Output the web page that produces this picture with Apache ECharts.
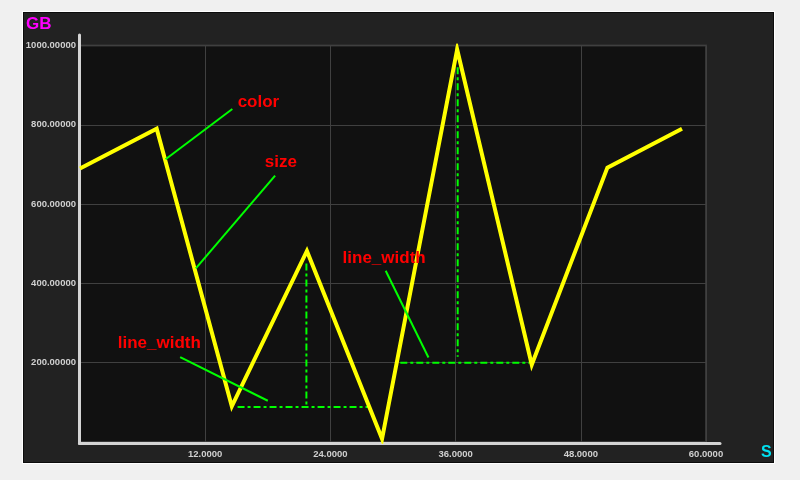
<!DOCTYPE html>
<html>
<head>
<meta charset="utf-8">
<script src="https://cdn.jsdelivr.net/npm/echarts@6/dist/echarts.min.js"></script>
<style>
  html, body { margin: 0; padding: 0; background: #f0f0f0; }
  #panel { position: absolute; left: 23px; top: 12px; width: 749px; height: 449px; background: #222222; border: 1px solid #0c0c0c; box-shadow: 0 0 0 1px #ffffff; }
  #chart { position: absolute; left: 0; top: 0; width: 800px; height: 480px; }
</style>
</head>
<body>
<div id="panel"></div>
<div id="chart"></div>
<script>
// ---- data ----
const xValues = [0, 7.35, 14.55, 21.75, 28.95, 36.15, 43.3, 50.55, 57.7];
const yValues = [690, 790, 90, 482, 8, 990, 195, 692, 790];

const xTicks = [12, 24, 36, 48, 60];
const yTicks = [200, 400, 600, 800, 1000];

// dash-dot guide lines (data coords): [x1, y1, x2, y2]
const guideLines = [
  [15.1, 88, 27.6, 88],
  [21.7, 450, 21.7, 88],
  [30.7, 200, 43.1, 200],
  [36.2, 945, 36.2, 215]
];

// annotation leader lines: [x1, y1, x2, y2]
const leaderLines = [
  [14.6, 840, 8.2, 713],
  [18.7, 672, 11.1, 438],
  [29.3, 432, 33.4, 213],
  [9.6, 214, 18.0, 104]
];

// annotation texts
const noteTexts = ['color', 'size', 'line_width', 'line_width'];
const noteX = [17.1, 19.25, 29.15, 7.6];
const noteY = [856, 705, 463, 250];

const xName = 'S';
const yName = 'GB';

// ---- chart ----
const chart = echarts.init(document.getElementById('chart'), null, { renderer: 'canvas' });
const FONT = 'Liberation Sans, Arial, sans-serif';

const series = [];
guideLines.forEach(function (g) {
  series.push({
    type: 'line', xAxisIndex: 0, yAxisIndex: 0, symbol: 'none', silent: true,
    data: [[g[0], g[1]], [g[2], g[3]]],
    lineStyle: { color: '#00ff00', width: 2, type: [7, 3, 3, 3] },
    z: 3
  });
});
series.push({
  type: 'line', xAxisIndex: 0, yAxisIndex: 0, symbol: 'none',
  data: xValues.map(function (x, i) { return [x, yValues[i]]; }),
  lineStyle: { color: '#ffff00', width: 4, join: 'miter' },
  z: 4
});
leaderLines.forEach(function (g) {
  series.push({
    type: 'line', xAxisIndex: 0, yAxisIndex: 0, symbol: 'none', silent: true,
    data: [[g[0], g[1]], [g[2], g[3]]],
    lineStyle: { color: '#00ff00', width: 2 },
    z: 5
  });
});
series.push({
  type: 'scatter', xAxisIndex: 0, yAxisIndex: 0, symbolSize: 0,
  itemStyle: { color: '#ff0000', opacity: 1 },
  data: noteTexts.map(function (t, i) { return { name: t, value: [noteX[i], noteY[i]] }; }),
  label: {
    show: true, position: 'inside', formatter: '{b}', opacity: 1,
    color: '#ff0000', fontSize: 17, fontWeight: 'bold', fontFamily: FONT,
    textBorderWidth: 0, textBorderColor: 'transparent', textShadowBlur: 0
  },
  z: 6
});

const option = {
  animation: false,
  backgroundColor: 'transparent',
  title: [
    { text: yName, left: 26, top: 16, padding: 0, textStyle: { color: '#ff00ff', fontSize: 17, fontWeight: 'bold', fontFamily: FONT } },
    { text: xName, left: 761, top: 445, padding: 0, textStyle: { color: '#00e0f0', fontSize: 16, fontWeight: 'bold', fontFamily: FONT } }
  ],
  grid: [
    { left: 80, right: 94, top: 45.5, bottom: 38, show: true, backgroundColor: '#111111', borderColor: '#363636', borderWidth: 2 },
    { left: 79.5, right: 80, top: 35, bottom: 36.5, show: false }
  ],
  xAxis: [
    {
      gridIndex: 0, type: 'value', min: 0, max: 60, interval: 12,
      axisLine: { show: false }, axisTick: { show: false },
      splitLine: { show: true, lineStyle: { color: '#404040', width: 1 } },
      axisLabel: {
        color: '#d0d0d0', fontSize: 9.5, fontWeight: 'bold', fontFamily: FONT, margin: 7,
        showMinLabel: false,
        formatter: function (v) { return xTicks.indexOf(v) >= 0 ? v.toFixed(4) : ''; }
      }
    },
    {
      gridIndex: 1, type: 'value', min: 0, max: 1,
      axisLine: { show: true, onZero: false, lineStyle: { color: '#d4d4d4', width: 3 } },
      axisTick: { show: false }, axisLabel: { show: false }, splitLine: { show: false }
    }
  ],
  yAxis: [
    {
      gridIndex: 0, type: 'value', min: 0, max: 1000, interval: 200,
      axisLine: { show: false }, axisTick: { show: false },
      splitLine: { show: true, lineStyle: { color: '#404040', width: 1 } },
      axisLabel: {
        color: '#d0d0d0', fontSize: 9.5, fontWeight: 'bold', fontFamily: FONT, margin: 4,
        padding: [3, 0, 0, 0],
        showMinLabel: false,
        formatter: function (v) { return yTicks.indexOf(v) >= 0 ? v.toFixed(5) : ''; }
      }
    },
    {
      gridIndex: 1, type: 'value', min: 0, max: 1,
      axisLine: { show: true, onZero: false, lineStyle: { color: '#d4d4d4', width: 3 } },
      axisTick: { show: false }, axisLabel: { show: false }, splitLine: { show: false }
    }
  ],
  series: series
};
chart.setOption(option);
</script>
</body>
</html>
